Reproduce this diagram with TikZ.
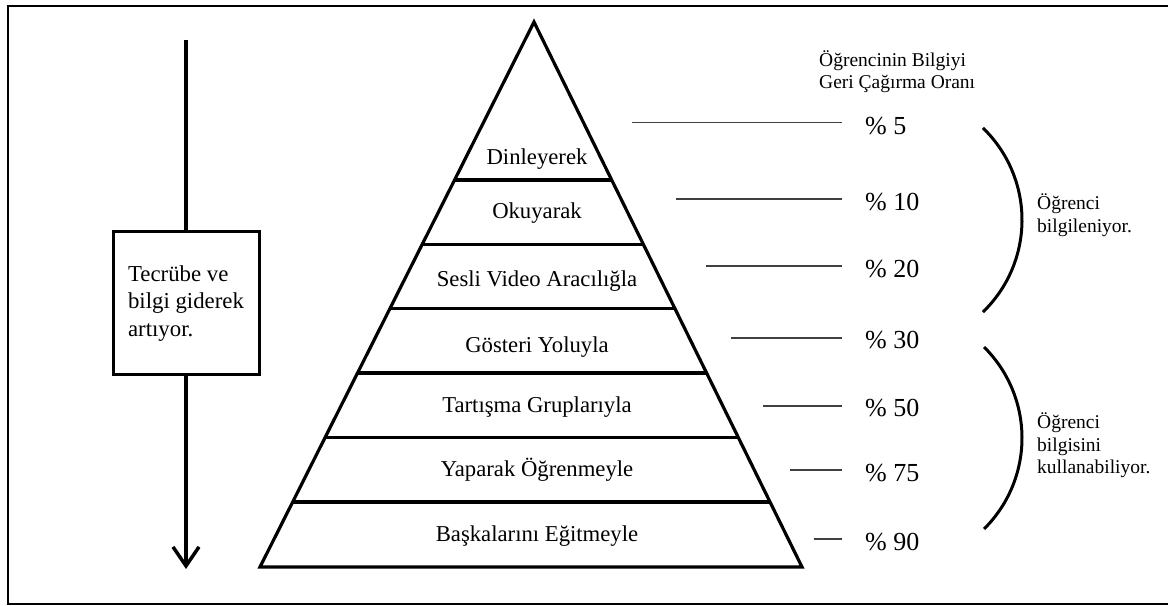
\documentclass[tikz,border=0pt]{standalone}
\usepackage{fontspec}
\setmainfont{Liberation Serif}
\usetikzlibrary{calc,arrows.meta}
\newcommand\myfs[2]{\fontsize{#1bp}{#2bp}\selectfont}
\tikzset{
  frame/.style={line width=2.4bp},
  pyr/.style={line width=3.2bp, line join=miter},
  lvl/.style={font=\myfs{22.7}{27}, anchor=base, inner sep=0pt},
  leader/.style={line width=1.6bp, draw=black!75},
  pct/.style={font=\myfs{26}{30}, anchor=base west, inner xsep=23bp, inner ysep=0pt},
  note/.style={font=\myfs{19.5}{22.5}, align=left, anchor=west, inner sep=0pt},
  brace/.style={line width=3bp},
  infobox/.style={draw, line width=3bp, font=\myfs{22.8}{27.5}, align=left,
    inner xsep=15bp, minimum width=146bp, minimum height=142.5bp},
  flow/.style={line width=3.5bp},
}
\begin{document}
\begin{tikzpicture}[x=1bp,y=-1bp]
\useasboundingbox (0,0) rectangle (1168,606);
% outer frame (right side runs past the picture edge)
\begin{scope}
\clip (0,0) rectangle (1168,606);
\draw[frame] (8,6) rectangle (1172,604);
\end{scope}

% left arrow with box
\coordinate (atop) at (186,40);
\coordinate (abot) at (186,569);
\node[infobox] (box) at (186,303.25) {Tecrübe ve\\bilgi giderek\\artıyor.};
\draw[flow] (atop) -- (box.north);
\draw[flow,-{Straight Barb[length=19bp,width=26bp]}] (box.south) -- (abot);

% pyramid
\coordinate (apex) at (534,22);
\coordinate (bl) at (260,567);
\coordinate (br) at (802,567);
\draw[pyr] (apex) -- (bl) -- (br) -- cycle;
\foreach \yy [count=\i] in {180,244.5,308.5,373,437.5,502}{
  \draw[pyr] ($(apex)!{(\yy-22)/545}!(bl)$) -- ($(apex)!{(\yy-22)/545}!(br)$);
}
\node[lvl] (l1) at (537,165) {Dinleyerek};
\node[lvl] (l2) at (537,219) {Okuyarak};
\node[lvl] (l3) at (537,286.5) {Sesli Video Aracılığla};
\node[lvl] (l4) at (537,352) {Gösteri Yoluyla};
\node[lvl] (l5) at (537,412) {Tartışma Gruplarıyla};
\node[lvl] (l6) at (537,476) {Yaparak Öğrenmeyle};
\node[lvl] (l7) at (537,541) {Başkalarını Eğitmeyle};

% header
\node[note] (head) at (819,71.5) {Öğrencinin Bilgiyi\\Geri Çağırma Oranı};

% percentages and leader lines
\node[pct] (p1) at (842,135) {\% 5};
\node[pct] (p2) at (842,210.7) {\% 10};
\node[pct] (p3) at (842,278) {\% 20};
\node[pct] (p4) at (842,349) {\% 30};
\node[pct] (p5) at (842,416.7) {\% 50};
\node[pct] (p6) at (842,481.7) {\% 75};
\node[pct] (p7) at (842,550) {\% 90};
\coordinate (s1) at (632,122.5);
\coordinate (s2) at (675.6,199);
\coordinate (s3) at (706,266);
\coordinate (s4) at (731,338);
\coordinate (s5) at (763,406);
\coordinate (s6) at (790,470);
\coordinate (s7) at (813.7,539);
\foreach \k in {1,...,7}{
  \draw[leader] (s\k) -- (s\k -| p\k.west);
}

% brackets
\coordinate (c1) at (894,220);
\coordinate (c2) at (894,438);
\draw[brace] (c1) ++(-46:128) arc[start angle=-46, end angle=46, radius=128];
\draw[brace] (c2) ++(-45.3:128) arc[start angle=-45.3, end angle=45.3, radius=128];
\node[note] (n1) at (1037,215.4) {Öğrenci\\bilgileniyor.};
\node[note] (n2) at (1037,445.5) {Öğrenci\\bilgisini\\kullanabiliyor.};
\end{tikzpicture}
\end{document}
